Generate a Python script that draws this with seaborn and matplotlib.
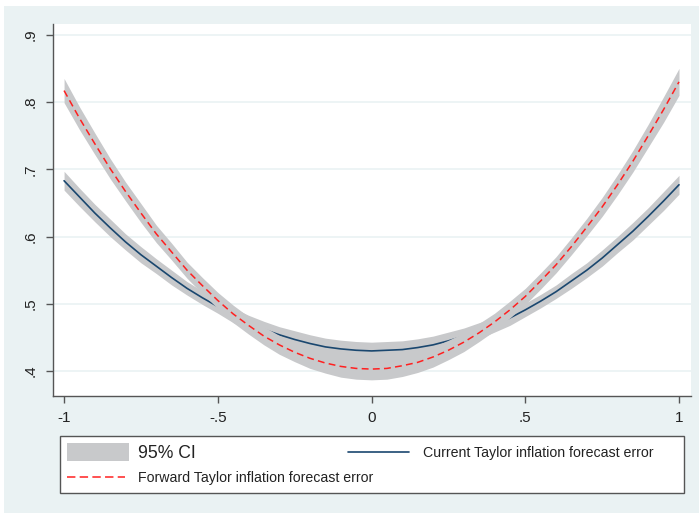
import numpy as np
import pandas as pd
import matplotlib
matplotlib.use('Agg')
import matplotlib.pyplot as plt
import seaborn as sns
from matplotlib.patches import Rectangle
from matplotlib.lines import Line2D

# x grid and fitted curves / CI bounds
x_vals = [-1.00, -0.95, -0.90, -0.85, -0.80, -0.75, -0.70, -0.65, -0.60, -0.55,
          -0.50, -0.45, -0.40, -0.35, -0.30, -0.25, -0.20, -0.15, -0.10, -0.05,
          0.00, 0.05, 0.10, 0.15, 0.20, 0.25, 0.30, 0.35, 0.40, 0.45,
          0.50, 0.55, 0.60, 0.65, 0.70, 0.75, 0.80, 0.85, 0.90, 0.95, 1.00]

current_fit = [0.683, 0.659, 0.635, 0.613, 0.592, 0.573, 0.556, 0.539, 0.523, 0.509,
               0.496, 0.483, 0.472, 0.462, 0.454, 0.447, 0.441, 0.436, 0.433, 0.431,
               0.430, 0.431, 0.432, 0.435, 0.439, 0.445, 0.452, 0.460, 0.469, 0.479,
               0.491, 0.504, 0.518, 0.534, 0.550, 0.568, 0.588, 0.608, 0.630, 0.653, 0.677]
current_lo = [0.669, 0.645, 0.622, 0.600, 0.580, 0.561, 0.545, 0.528, 0.513, 0.499,
              0.486, 0.472, 0.461, 0.450, 0.442, 0.434, 0.428, 0.423, 0.420, 0.418,
              0.417, 0.418, 0.419, 0.422, 0.426, 0.432, 0.440, 0.448, 0.458, 0.468,
              0.481, 0.494, 0.508, 0.523, 0.539, 0.556, 0.576, 0.595, 0.617, 0.639, 0.663]
current_hi = [0.697, 0.672, 0.648, 0.626, 0.604, 0.585, 0.567, 0.550, 0.533, 0.519,
              0.506, 0.494, 0.483, 0.474, 0.466, 0.460, 0.454, 0.449, 0.446, 0.444,
              0.443, 0.444, 0.445, 0.448, 0.452, 0.458, 0.464, 0.472, 0.480, 0.490,
              0.501, 0.514, 0.528, 0.545, 0.561, 0.580, 0.600, 0.621, 0.643, 0.667, 0.691]

forward_fit = [0.817, 0.776, 0.738, 0.701, 0.667, 0.635, 0.604, 0.577, 0.550, 0.527,
               0.505, 0.485, 0.468, 0.452, 0.439, 0.428, 0.419, 0.412, 0.407, 0.404,
               0.403, 0.404, 0.408, 0.413, 0.421, 0.431, 0.443, 0.457, 0.473, 0.491,
               0.511, 0.534, 0.558, 0.585, 0.614, 0.644, 0.677, 0.712, 0.750, 0.789, 0.830]
forward_lo = [0.799, 0.759, 0.722, 0.686, 0.653, 0.621, 0.591, 0.565, 0.538, 0.515,
              0.493, 0.472, 0.455, 0.439, 0.425, 0.414, 0.404, 0.397, 0.391, 0.388,
              0.387, 0.388, 0.392, 0.398, 0.406, 0.417, 0.429, 0.444, 0.460, 0.479,
              0.499, 0.522, 0.546, 0.573, 0.601, 0.630, 0.662, 0.696, 0.733, 0.770, 0.810]
forward_hi = [0.835, 0.793, 0.754, 0.716, 0.681, 0.649, 0.617, 0.590, 0.562, 0.539,
              0.517, 0.498, 0.481, 0.466, 0.453, 0.443, 0.434, 0.428, 0.423, 0.420,
              0.419, 0.420, 0.424, 0.429, 0.436, 0.446, 0.457, 0.471, 0.486, 0.504,
              0.523, 0.546, 0.570, 0.598, 0.627, 0.658, 0.692, 0.728, 0.767, 0.808, 0.850]

x_ticks = [-1, -0.5, 0, 0.5, 1]
x_ticklabels = ['-1', '-.5', '0', '.5', '1']
y_ticks = [0.4, 0.5, 0.6, 0.7, 0.8, 0.9]
y_ticklabels = ['.4', '.5', '.6', '.7', '.8', '.9']

df = pd.DataFrame({'x': x_vals, 'current': current_fit, 'forward': forward_fit})

sns.set_style('white')
plt.rcParams['font.family'] = ['Liberation Sans', 'DejaVu Sans']

W, H = 699, 513
bg = '#eaf2f3'
band_col = '#c8c9cb'
navy = '#1a476f'
red = '#ff2020'
axis_col = '#555555'
txt_col = '#222222'

fig = plt.figure(figsize=(W / 100, H / 100), dpi=100)
fig.patch.set_facecolor(bg)


def fx(px):
    return px / W


def fy(py):
    return 1 - py / H


# white strips along top and left edge
fig.add_artist(Rectangle((0, fy(6)), 1, 6 / H, transform=fig.transFigure, color='white', lw=0))
fig.add_artist(Rectangle((0, 0), 4 / W, 1, transform=fig.transFigure, color='white', lw=0))

ax = fig.add_axes([fx(53), fy(396), fx(691) - fx(53), fy(24) - fy(396)])
ax.set_facecolor('white')

# draw order as in the original: band, line, band, line
ax.fill_between(x_vals, current_lo, current_hi, color=band_col, lw=0, zorder=2)
sns.lineplot(data=df, x='x', y='current', ax=ax, color=navy, lw=1.2, zorder=3)
ax.fill_between(x_vals, forward_lo, forward_hi, color=band_col, lw=0, zorder=4)
sns.lineplot(data=df, x='x', y='forward', ax=ax, color=red, lw=1.1, zorder=5)
ax.lines[-1].set_dashes((4.5, 2.8))

ax.set_xlim(-1.036, 1.039)
ax.set_ylim(0.363, 0.916)
ax.set_xticks(x_ticks)
ax.set_xticklabels(x_ticklabels)
ax.set_yticks(y_ticks)
ax.set_yticklabels(y_ticklabels, rotation=90, va='center')
ax.set_xlabel('')
ax.set_ylabel('')
ax.grid(axis='y', color=bg, lw=1.2, zorder=1)
ax.set_axisbelow(True)

for s in ['top', 'right']:
    ax.spines[s].set_visible(False)
for s in ['left', 'bottom']:
    ax.spines[s].set_color(axis_col)
    ax.spines[s].set_linewidth(1.0)
ax.tick_params(axis='both', which='major', direction='out', length=5, width=1.0,
               color=axis_col, labelsize=11, labelcolor=txt_col, pad=6,
               left=True, bottom=True)

# legend, laid out like Stata's (columns overlap, so built by hand)
fig.add_artist(Rectangle((fx(60), fy(493)), fx(684) - fx(60), fy(436) - fy(493),
                         transform=fig.transFigure, facecolor='white',
                         edgecolor=axis_col, lw=1.0))
fig.add_artist(Rectangle((fx(67), fy(461)), fx(129) - fx(67), fy(443) - fy(461),
                         transform=fig.transFigure, facecolor=band_col, lw=0))
fig.add_artist(Line2D([fx(348), fx(409)], [fy(452), fy(452)], transform=fig.transFigure,
                      color=navy, lw=1.2))
fig.add_artist(Line2D([fx(67), fx(125)], [fy(477), fy(477)], transform=fig.transFigure,
                      color=red, lw=1.1, dashes=(5.5, 2.8)))
fig.text(fx(138), fy(453), '95% CI', fontsize=12.7, va='center', ha='left', color=txt_col)
fig.text(fx(423), fy(453), 'Current Taylor inflation forecast error', fontsize=10.2,
         va='center', ha='left', color=txt_col)
fig.text(fx(138), fy(478), 'Forward Taylor inflation forecast error', fontsize=10.2,
         va='center', ha='left', color=txt_col)

fig.savefig('out.png', dpi=100, facecolor=fig.get_facecolor())
